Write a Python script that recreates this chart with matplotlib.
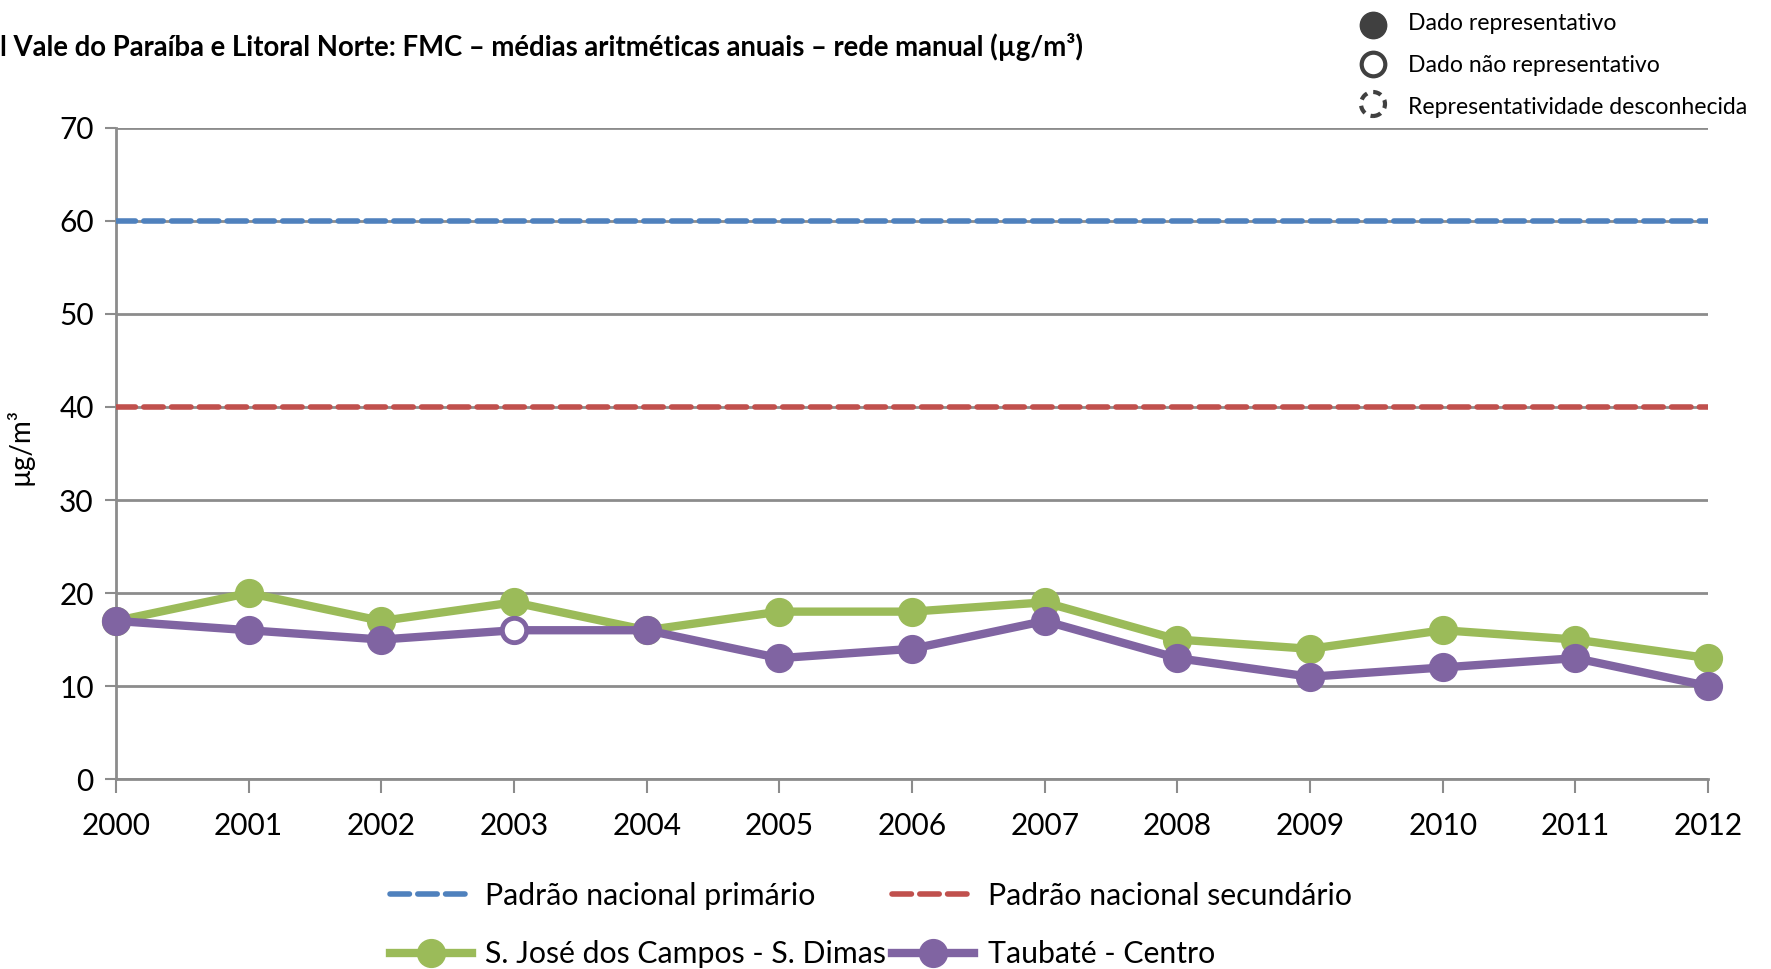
import numpy as np
import matplotlib
matplotlib.use("Agg")
import matplotlib.pyplot as plt
from matplotlib.lines import Line2D
from matplotlib.patches import Ellipse

plt.rcParams['font.family'] = ['Lato', 'DejaVu Sans']

anos = [2000, 2001, 2002, 2003, 2004, 2005, 2006, 2007, 2008, 2009, 2010, 2011, 2012]
sjc = [17, 20, 17, 19, 16, 18, 18, 19, 15, 14, 16, 15, 13]
taubate = [17, 16, 15, 16, 16, 13, 14, 17, 13, 11, 12, 13, 10]
taubate_nao_repr = [2003]
padrao_primario = 60
padrao_secundario = 40

azul = '#4F81BD'
vermelho = '#C0504D'
verde = '#9BBB59'
roxo = '#8064A2'
cinza = '#8C8C8C'

fig = plt.figure(figsize=(17.71, 9.69), dpi=100)
ax = fig.add_axes([0.0655, 0.196, 0.899, 0.672])

h1, = ax.plot(anos, [padrao_primario] * len(anos), color=azul, lw=4, ls=(0, (3.5, 1.5)),
              dash_capstyle='round', zorder=3)
h2, = ax.plot(anos, [padrao_secundario] * len(anos), color=vermelho, lw=4, ls=(0, (3.5, 1.5)),
              dash_capstyle='round', zorder=3)
h3, = ax.plot(anos, sjc, color=verde, lw=6, marker='o', ms=20, clip_on=False, zorder=4)
h4, = ax.plot(anos, taubate, color=roxo, lw=6, marker='o', ms=20, clip_on=False, zorder=5)
idx = [anos.index(a) for a in taubate_nao_repr]
ax.plot([anos[i] for i in idx], [taubate[i] for i in idx], ls='none', marker='o', ms=17,
        mfc='white', mec=roxo, mew=3, zorder=6, clip_on=False)

ax.set_xlim(2000, 2012)
ax.set_ylim(0, 70)
ax.set_xticks(anos)
ax.set_yticks(range(0, 80, 10))
ax.yaxis.grid(True, color=cinza, lw=2)
ax.set_axisbelow(True)
for s in ['top', 'right']:
    ax.spines[s].set_visible(False)
for s in ['left', 'bottom']:
    ax.spines[s].set_color(cinza)
    ax.spines[s].set_linewidth(2)
ax.tick_params(axis='x', length=10, width=1.5, color=cinza, labelsize=21.5, pad=14)
ax.tick_params(axis='y', length=8, width=1.5, color=cinza, labelsize=21.5, pad=8)
ax.set_ylabel('µg/m³', fontsize=20)
ax.yaxis.set_label_coords(-0.052, 0.511)

fig.text(0.0, 0.952, 'l Vale do Paraíba e Litoral Norte: FMC – médias aritméticas anuais – rede manual (µg/m³)',
         fontsize=19.8, fontweight='bold', va='center', ha='left')

# legenda de representatividade
lx = 1373 / 1771
for y, txt in [(24, 'Dado representativo'), (66, 'Dado não representativo'),
               (108, 'Representatividade desconhecida')]:
    fig.text(1408 / 1771, 1 - y / 969, txt, fontsize=16.6, va='center', ha='left')
fig.add_artist(Line2D([lx], [1 - 25 / 969], marker='o', ms=19, color='#404040', ls='none'))
fig.add_artist(Line2D([lx], [1 - 64 / 969], marker='o', ms=17, mfc='white', mec='#404040',
                      mew=3, ls='none'))
fig.add_artist(Ellipse((lx, 1 - 104 / 969), 24 / 1771, 24 / 969, fill=False, ec='#404040',
                       lw=3, ls=(0, (2, 1.5)), transform=fig.transFigure))

fig.legend([h1, h3, h2, h4],
           ['Padrão nacional primário', 'S. José dos Campos - S. Dimas',
            'Padrão nacional secundário', 'Taubaté - Centro'],
           ncol=2, loc='upper left', bbox_to_anchor=(390 / 1771, 1 - 882 / 969), frameon=False,
           fontsize=21.8, handlelength=2.7, handletextpad=0.45, columnspacing=0.2,
           labelspacing=1.0, borderpad=0, borderaxespad=0)

fig.savefig('out.png', dpi=100)
